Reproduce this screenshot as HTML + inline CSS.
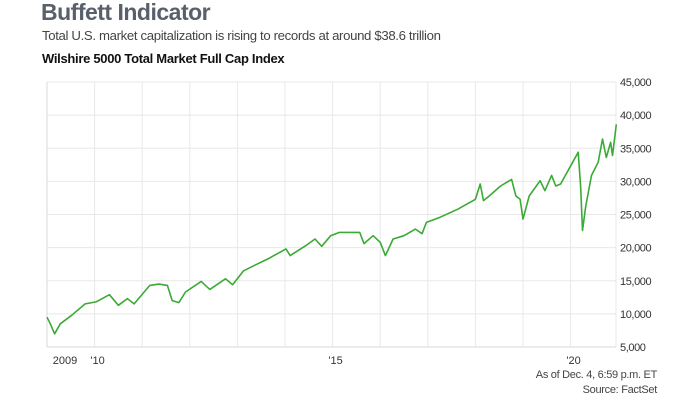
<!DOCTYPE html>
<html><head><meta charset="utf-8"><style>
body{margin:0;width:700px;height:406px;background:#fff;font-family:"Liberation Sans",sans-serif;overflow:hidden;position:relative}
.t{position:absolute;white-space:nowrap}
</style></head><body>
<div class="t" style="left:41px;top:-1px;font-size:23px;font-weight:bold;color:#5a606b;letter-spacing:-0.5px">Buffett Indicator</div>
<div class="t" style="left:42px;top:28px;font-size:13.2px;color:#444;letter-spacing:-0.35px">Total U.S. market capitalization is rising to records at around $38.6 trillion</div>
<div class="t" style="left:42px;top:51px;font-size:13px;font-weight:bold;color:#111;letter-spacing:-0.3px">Wilshire 5000 Total Market Full Cap Index</div>
<svg id="chart" width="700" height="406" style="position:absolute;left:0;top:0"></svg>
<div class="t" style="right:43px;top:369px;font-size:11px;color:#444;letter-spacing:-0.3px">As of Dec. 4, 6:59 p.m. ET</div>
<div class="t" style="right:43px;top:384px;font-size:11px;color:#444;letter-spacing:-0.3px">Source: FactSet</div>
<script>
const years=[2009,2009.07,2009.16,2009.28,2009.52,2009.8,2010.03,2010.31,2010.5,2010.69,2010.83,2011.16,2011.35,2011.53,2011.63,2011.77,2011.91,2012.24,2012.42,2012.75,2012.9,2013.13,2013.41,2013.64,2014.02,2014.11,2014.44,2014.63,2014.77,2014.96,2015.14,2015.42,2015.57,2015.66,2015.85,2016.0,2016.11,2016.27,2016.5,2016.74,2016.88,2016.97,2017.26,2017.63,2018.0,2018.1,2018.17,2018.29,2018.53,2018.76,2018.85,2018.94,2019.0,2019.13,2019.36,2019.46,2019.6,2019.69,2019.79,2020.02,2020.16,2020.21,2020.25,2020.32,2020.44,2020.58,2020.67,2020.75,2020.84,2020.88,2020.96];
const values=[9500,8500,7000,8500,9800,11500,11800,12900,11300,12300,11500,14300,14500,14300,12000,11700,13300,14900,13700,15300,14400,16500,17500,18300,19800,18800,20300,21300,20200,21800,22300,22300,22300,20600,21800,20800,18800,21300,21800,22800,22100,23800,24600,25800,27300,29600,27100,27800,29300,30300,27800,27300,24300,27800,30100,28600,30900,29300,29600,32600,34400,29300,22600,26300,30900,32900,36400,33600,35900,33900,38600];
const yTicks=[5000,10000,15000,20000,25000,30000,35000,40000,45000];
const xTickYears=[2009,2010,2011,2012,2013,2014,2015,2016,2017,2018,2019,2020];
const xLabels={2009:"2009",2010:"'10",2015:"'15",2020:"'20"};
const L=47,R=616,T=82,B=347;
const x=v=>L+(v-2009)*47.6;
const y=v=>B-(v-5000)/40000*(B-T);
const svg=document.getElementById('chart');
const NS='http://www.w3.org/2000/svg';
function mk(tag,attrs){const e=document.createElementNS(NS,tag);for(const k in attrs)e.setAttribute(k,attrs[k]);svg.appendChild(e);return e;}
yTicks.forEach(v=>{
  const g=mk('line',{x1:L,x2:R,y1:y(v),y2:y(v),stroke:v===5000?'#d8d8d8':'#e8e8e8','stroke-width':1});
  
  
  const t=mk('text',{x:620,y:y(v)+4,'font-size':11,fill:'#333','font-family':'Liberation Sans, sans-serif','letter-spacing':'-0.4'});
  t.textContent=v.toLocaleString('en-US');
  
  
});
xTickYears.forEach(v=>{
  const g=mk('line',{x1:x(v),x2:x(v),y1:T,y2:B,stroke:v===2009?'#d8d8d8':'#e8e8e8','stroke-width':1});
  
  
  if(xLabels[v]){
    const t=mk('text',{x:v===2009?x(v)+18:x(v)+3,y:364,'font-size':11,fill:'#333','text-anchor':'middle','font-family':'Liberation Sans, sans-serif'});
    t.textContent=xLabels[v];
    
    
  }
});
const edge=mk('line',{x1:R,x2:R,y1:T,y2:B,stroke:'#e8e8e8'});


const pts=years.map((yr,i)=>x(yr).toFixed(1)+','+y(values[i]).toFixed(1)).join(' ');
const line=mk('polyline',{points:pts,fill:'none',stroke:'#3aaa35','stroke-width':1.6,'stroke-linejoin':'round'});


</script>
</body></html>
